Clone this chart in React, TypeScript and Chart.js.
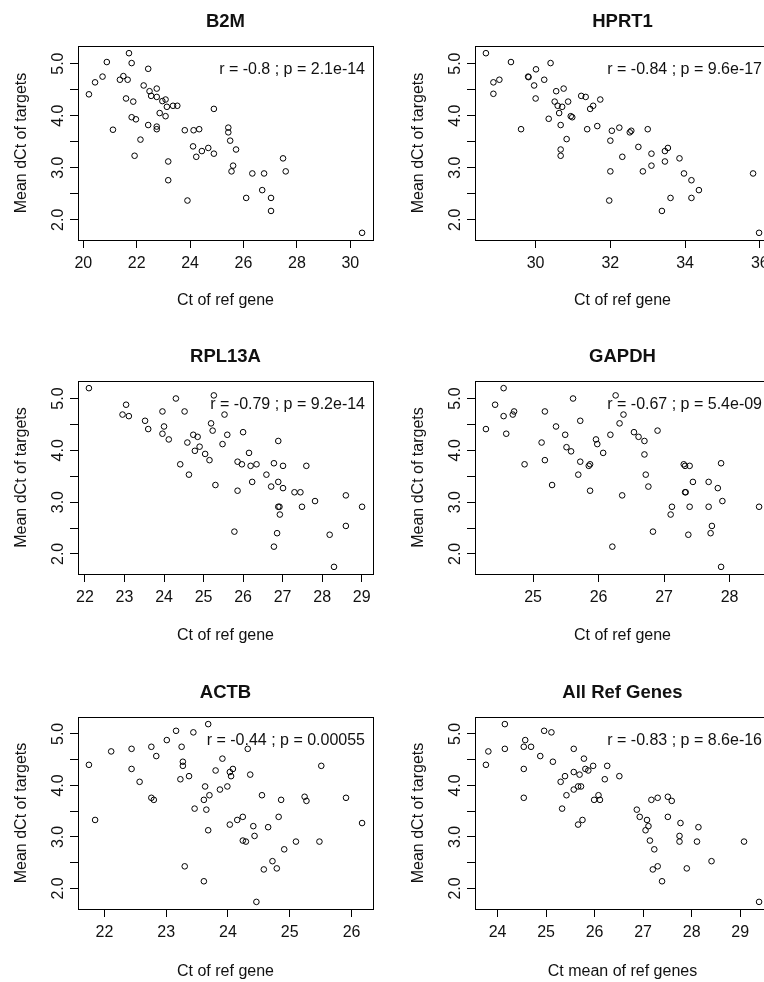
import React, { useEffect, useRef } from 'react';
import { Chart, registerables } from 'chart.js';
Chart.register(...registerables);

const FONT = '"Liberation Sans", Arial, Helvetica, sans-serif';

// ---- data ----
const b2mX = [20.21, 20.44, 20.72, 20.88, 21.11, 21.37, 21.5, 21.66, 21.6, 21.71, 21.81, 21.87, 21.81, 21.97, 21.92, 22.14, 22.26, 22.43, 22.48, 22.54, 22.43, 22.75, 22.75, 22.75, 22.75, 22.86, 22.96, 23.08, 23.13, 23.08, 23.36, 23.52, 23.18, 23.18, 23.8, 23.9, 24.13, 24.34, 24.11, 24.23, 24.44, 24.68, 24.89, 24.89, 25.43, 25.43, 25.5, 25.72, 25.61, 25.55, 26.1, 26.33, 26.77, 26.7, 27.03, 27.03, 27.48, 27.58, 30.44];
const b2mY = [4.41, 4.64, 4.75, 5.03, 3.73, 4.69, 4.76, 4.69, 4.33, 5.2, 5.01, 4.27, 3.97, 3.93, 3.23, 3.54, 4.58, 4.9, 4.47, 4.38, 3.82, 4.52, 4.36, 3.79, 3.74, 4.05, 4.28, 4.31, 4.17, 3.99, 4.19, 4.19, 3.12, 2.76, 3.72, 2.37, 3.72, 3.74, 3.41, 3.21, 3.32, 3.38, 3.27, 4.13, 3.77, 3.68, 3.52, 3.35, 3.04, 2.93, 2.42, 2.89, 2.89, 2.57, 2.42, 2.17, 3.18, 2.93, 1.75];

const hprt1X = [28.67, 28.87, 28.87, 29.03, 29.34, 29.61, 29.8, 29.81, 30.01, 29.96, 30.0, 30.23, 30.4, 30.35, 30.55, 30.51, 30.59, 30.75, 30.71, 30.63, 30.67, 30.67, 30.67, 30.83, 30.87, 30.94, 30.98, 31.22, 31.34, 31.46, 31.54, 31.73, 31.38, 31.65, 32.04, 32.0, 32.0, 31.97, 32.24, 32.32, 32.52, 32.56, 32.75, 33.0, 32.87, 33.1, 33.1, 33.46, 33.54, 33.46, 33.38, 33.61, 33.85, 33.97, 34.17, 34.17, 34.37, 35.82, 35.98];
const hprt1Y = [5.2, 4.64, 4.42, 4.69, 5.03, 3.74, 4.75, 4.74, 4.89, 4.58, 4.33, 4.69, 5.01, 3.94, 4.47, 4.27, 4.19, 4.52, 4.17, 4.05, 3.82, 3.35, 3.23, 3.55, 4.27, 3.99, 3.97, 4.38, 4.36, 4.13, 4.19, 4.31, 3.74, 3.8, 3.71, 3.52, 2.93, 2.37, 3.77, 3.21, 3.68, 3.71, 3.4, 3.74, 2.93, 3.27, 3.04, 3.32, 3.38, 3.12, 2.17, 2.42, 3.18, 2.89, 2.76, 2.42, 2.57, 2.89, 1.75];

const rpl13aX = [22.1, 22.95, 23.04, 23.11, 23.52, 23.6, 23.96, 24.0, 23.96, 24.12, 24.3, 24.52, 24.41, 24.59, 24.63, 24.74, 24.85, 24.78, 24.9, 25.04, 25.15, 25.19, 25.23, 25.26, 25.3, 25.53, 25.48, 25.6, 25.86, 25.86, 25.78, 25.97, 26.0, 26.15, 26.19, 26.34, 26.23, 26.59, 26.71, 26.78, 26.89, 26.89, 27.01, 27.01, 26.89, 26.92, 26.93, 26.86, 26.78, 27.3, 27.45, 27.49, 27.6, 27.82, 28.19, 28.3, 28.6, 28.6, 29.01];
const rpl13aY = [5.2, 4.69, 4.88, 4.66, 4.57, 4.41, 4.75, 4.46, 4.32, 4.21, 5.0, 4.75, 3.73, 4.15, 3.53, 4.3, 4.26, 3.99, 4.07, 3.93, 3.81, 4.52, 4.38, 5.06, 3.33, 4.69, 4.12, 4.3, 3.78, 3.22, 2.43, 3.73, 4.35, 3.95, 3.7, 3.73, 3.39, 3.53, 3.3, 3.75, 4.18, 3.39, 3.7, 3.27, 2.91, 2.91, 2.76, 2.4, 2.14, 3.19, 3.19, 2.91, 3.7, 3.02, 2.37, 1.75, 3.13, 2.54, 2.91];

const gapdhX = [24.28, 24.42, 24.55, 24.55, 24.59, 24.69, 24.71, 24.87, 25.13, 25.18, 25.18, 25.29, 25.35, 25.49, 25.51, 25.58, 25.61, 25.72, 25.72, 25.69, 25.85, 25.87, 25.87, 25.96, 25.98, 26.07, 26.18, 26.26, 26.32, 26.38, 26.36, 26.21, 26.54, 26.61, 26.7, 26.7, 26.72, 26.76, 26.9, 26.83, 27.12, 27.1, 27.3, 27.32, 27.39, 27.32, 27.33, 27.44, 27.39, 27.37, 27.68, 27.68, 27.73, 27.71, 27.82, 27.87, 27.89, 27.87, 28.45];
const gapdhY = [4.41, 4.88, 5.2, 4.66, 4.32, 4.69, 4.75, 3.73, 4.15, 4.75, 3.81, 3.33, 4.46, 4.3, 4.06, 3.98, 5.0, 4.57, 3.78, 3.53, 3.7, 3.73, 3.22, 4.21, 4.12, 3.95, 4.3, 5.06, 4.52, 4.69, 3.13, 2.14, 4.35, 4.26, 4.18, 3.92, 3.53, 3.3, 4.38, 2.43, 2.91, 2.76, 3.73, 3.7, 3.7, 3.19, 3.19, 3.39, 2.91, 2.37, 3.39, 2.91, 2.54, 2.4, 3.27, 3.75, 3.02, 1.75, 2.91];

const actbX = [21.75, 21.85, 22.11, 22.44, 22.44, 22.57, 22.76, 22.76, 22.8, 22.84, 23.01, 23.16, 23.25, 23.27, 23.27, 23.23, 23.37, 23.3, 23.44, 23.46, 23.68, 23.63, 23.61, 23.65, 23.7, 23.68, 23.61, 23.8, 23.87, 23.91, 23.99, 24.03, 24.08, 24.05, 24.03, 24.15, 24.24, 24.24, 24.29, 24.32, 24.36, 24.41, 24.43, 24.46, 24.55, 24.58, 24.65, 24.72, 24.79, 24.82, 24.86, 24.91, 25.1, 25.24, 25.27, 25.48, 25.51, 25.91, 26.17];
const actbY = [4.4, 3.33, 4.66, 4.71, 4.32, 4.07, 4.75, 3.76, 3.72, 4.57, 4.88, 5.06, 4.75, 4.46, 4.38, 4.12, 4.18, 2.43, 5.03, 3.55, 5.19, 3.98, 3.72, 3.53, 3.81, 3.13, 2.14, 4.29, 3.92, 4.52, 3.98, 4.26, 4.32, 4.18, 3.24, 3.33, 3.39, 2.93, 2.91, 4.71, 4.21, 3.21, 3.02, 1.74, 3.81, 2.37, 3.19, 2.53, 2.39, 3.39, 3.72, 2.76, 2.91, 3.78, 3.7, 2.91, 4.38, 3.76, 3.27];

const allX = [23.76, 23.81, 24.15, 24.15, 24.57, 24.54, 24.54, 24.54, 24.69, 24.88, 24.96, 25.11, 25.14, 25.3, 25.39, 25.42, 25.33, 25.57, 25.57, 25.57, 25.66, 25.72, 25.69, 25.78, 25.81, 25.87, 25.97, 25.66, 25.75, 25.99, 26.08, 26.11, 26.21, 26.26, 26.51, 26.87, 26.93, 27.08, 27.11, 27.05, 27.14, 27.23, 27.2, 27.3, 27.39, 27.17, 27.3, 27.51, 27.59, 27.51, 27.77, 27.75, 27.75, 27.9, 28.11, 28.14, 28.41, 29.08, 29.39];
const allY = [4.4, 4.66, 5.19, 4.71, 4.88, 4.75, 4.32, 3.76, 4.75, 4.57, 5.06, 5.03, 4.46, 4.07, 4.18, 3.81, 3.55, 4.71, 4.26, 3.92, 3.98, 3.98, 4.21, 4.52, 4.32, 4.29, 4.38, 3.24, 3.33, 3.72, 3.81, 3.72, 4.12, 4.38, 4.18, 3.53, 3.39, 3.33, 3.21, 3.13, 2.93, 2.76, 2.37, 2.43, 2.14, 3.72, 3.76, 3.78, 3.7, 3.39, 3.27, 3.02, 2.91, 2.39, 2.91, 3.19, 2.53, 2.91, 1.74];

const titles = ['B2M', 'HPRT1', 'RPL13A', 'GAPDH', 'ACTB', 'All Ref Genes'];
const notes = [
  'r = -0.8 ; p = 2.1e-14',
  'r = -0.84 ; p = 9.6e-17',
  'r = -0.79 ; p = 9.2e-14',
  'r = -0.67 ; p = 5.4e-09',
  'r = -0.44 ; p = 0.00055',
  'r = -0.83 ; p = 8.6e-16',
];
const xTitles = ['Ct of ref gene', 'Ct of ref gene', 'Ct of ref gene', 'Ct of ref gene', 'Ct of ref gene', 'Ct mean of ref genes'];
const yTitle = 'Mean dCt of targets';

const xTicksB2M = [20, 22, 24, 26, 28, 30];
const xTicksHPRT1 = [30, 32, 34, 36];
const xTicksRPL13A = [22, 23, 24, 25, 26, 27, 28, 29];
const xTicksGAPDH = [25, 26, 27, 28];
const xTicksACTB = [22, 23, 24, 25, 26];
const xTicksAll = [24, 25, 26, 27, 28, 29];
const yTicks = [2.0, 2.5, 3.0, 3.5, 4.0, 4.5, 5.0];
const yTickLabels = [2.0, 3.0, 4.0, 5.0];

const xSeries = [b2mX, hprt1X, rpl13aX, gapdhX, actbX, allX];
const ySeries = [b2mY, hprt1Y, rpl13aY, gapdhY, actbY, allY];
const xTickSets = [xTicksB2M, xTicksHPRT1, xTicksRPL13A, xTicksGAPDH, xTicksACTB, xTicksAll];

// ---- layout ----
const PANEL_W = 397;
const PANEL_H = 335;
const ROW_TOPS = [0, 335, 671];
const BOX_BOTTOMS = [240, 239, 238];
const TEXT = '#111';

function rRange(v: number[]): [number, number] {
  const mn = Math.min(...v);
  const mx = Math.max(...v);
  const e = (mx - mn) * 0.04;
  return [mn - e, mx + e];
}

const rStylePlugin = {
  id: 'rstyle',
  afterDraw(chart: any, _args: any, opts: any) {
    const { ctx, chartArea: a, scales } = chart;
    ctx.save();
    ctx.strokeStyle = '#000';
    ctx.lineWidth = 1;
    ctx.strokeRect(Math.round(a.left) + 0.5, Math.round(a.top) + 0.5, Math.round(a.right - a.left), Math.round(a.bottom - a.top));
    ctx.fillStyle = TEXT;
    ctx.font = `16px ${FONT}`;
    ctx.textAlign = 'center';
    ctx.textBaseline = 'middle';
    for (const v of yTickLabels) {
      const py = scales.y.getPixelForValue(v);
      ctx.save();
      ctx.translate(59, py);
      ctx.rotate(-Math.PI / 2);
      ctx.fillText(v.toFixed(1), 0, 0);
      ctx.restore();
    }
    ctx.font = `bold 18.5px ${FONT}`;
    ctx.fillText(opts.title, (a.left + a.right) / 2, 21.5);
    ctx.font = `16px ${FONT}`;
    ctx.textAlign = 'right';
    ctx.fillText(opts.note, a.right - 8, a.top + 23.5);
    ctx.restore();
  },
};

function Panel({ idx }: { idx: number }) {
  const ref = useRef<HTMLCanvasElement | null>(null);
  const row = Math.floor(idx / 2);
  const col = idx % 2;
  useEffect(() => {
    if (!ref.current) return;
    const xs = xSeries[idx];
    const ys = ySeries[idx];
    const [xmin, xmax] = rRange(xs);
    const [ymin, ymax] = rRange(ys);
    const boxBottom = BOX_BOTTOMS[row];
    const xTicks = xTickSets[idx];
    const chart = new Chart(ref.current, {
      type: 'scatter',
      data: {
        datasets: [
          {
            data: xs.map((x, i) => ({ x, y: ys[i] })),
            pointStyle: 'circle',
            pointRadius: 2.8,
            pointBorderWidth: 1,
            borderColor: '#000',
            pointBorderColor: '#000',
            backgroundColor: 'rgba(0,0,0,0)',
            pointBackgroundColor: 'rgba(0,0,0,0)',
          },
        ],
      },
      options: {
        animation: false,
        responsive: false,
        devicePixelRatio: 1,
        events: [],
        layout: { padding: { top: 46, right: 24, bottom: 0, left: 0 } },
        plugins: {
          legend: { display: false },
          tooltip: { enabled: false },
          title: { display: false },
          rstyle: { title: titles[idx], note: notes[idx] },
        } as any,
        scales: {
          x: {
            type: 'linear',
            position: 'bottom',
            min: xmin,
            max: xmax,
            afterBuildTicks: (s: any) => {
              s.ticks = xTicks.map((v) => ({ value: v }));
            },
            afterFit: (s: any) => {
              s.height = PANEL_H - boxBottom;
            },
            grid: { display: true, drawOnChartArea: false, drawTicks: true, tickLength: 8, color: '#000', lineWidth: 1 },
            border: { display: false },
            ticks: {
              autoSkip: false,
              maxRotation: 0,
              minRotation: 0,
              padding: 5.5,
              color: TEXT,
              font: { family: FONT, size: 16 },
              callback: (v: any) => String(v),
            },
            title: {
              display: true,
              text: xTitles[idx],
              color: TEXT,
              font: { family: FONT, size: 16 },
              padding: { top: 0, bottom: 24.4 },
            },
          },
          y: {
            type: 'linear',
            position: 'left',
            min: ymin,
            max: ymax,
            afterBuildTicks: (s: any) => {
              s.ticks = yTicks.map((v) => ({ value: v }));
            },
            afterFit: (s: any) => {
              s.width = 78;
            },
            grid: { display: true, drawOnChartArea: false, drawTicks: true, tickLength: 8, color: '#000', lineWidth: 1 },
            border: { display: false },
            ticks: { display: false },
            title: {
              display: true,
              text: yTitle,
              color: TEXT,
              font: { family: FONT, size: 16 },
              padding: { top: 12.4, bottom: 0 },
            },
          },
        },
      } as any,
      plugins: [rStylePlugin as any],
    });
    return () => chart.destroy();
  }, [idx, row]);
  return (
    <div style={{ position: 'absolute', left: col * PANEL_W, top: ROW_TOPS[row], width: PANEL_W, height: PANEL_H }}>
      <canvas ref={ref} width={PANEL_W} height={PANEL_H} style={{ display: 'block', width: PANEL_W, height: PANEL_H }} />
    </div>
  );
}

export default function App() {
  return (
    <div style={{ position: 'absolute', left: 0, top: 0, width: 764, height: 982, overflow: 'hidden', background: '#fff' }}>
      {titles.map((_, i) => (
        <Panel key={i} idx={i} />
      ))}
    </div>
  );
}
